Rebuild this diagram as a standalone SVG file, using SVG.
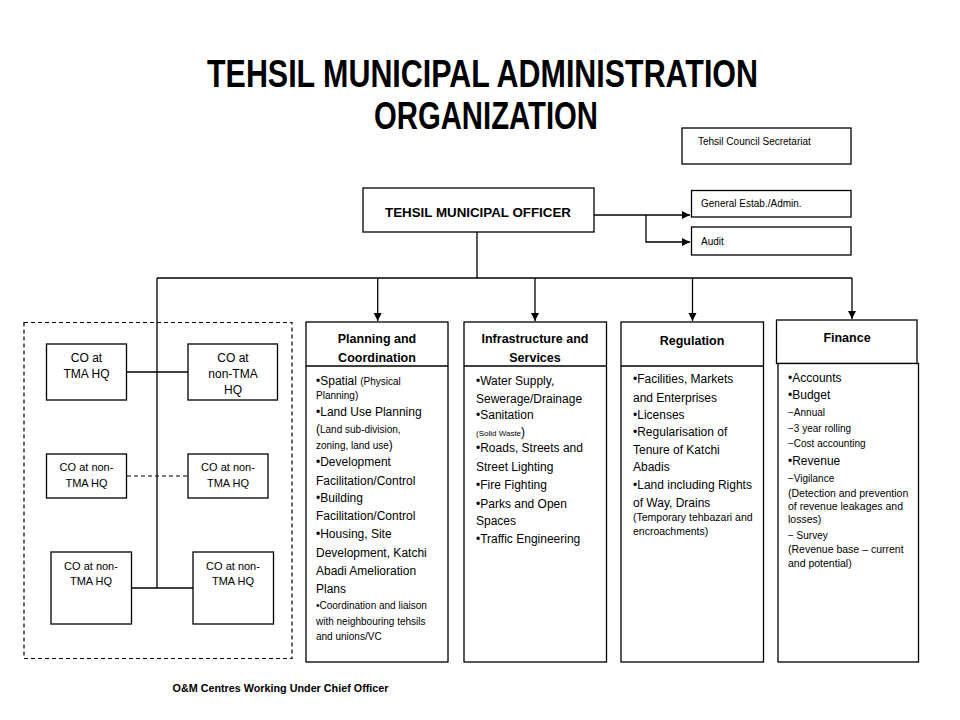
<svg xmlns="http://www.w3.org/2000/svg" width="960" height="720" viewBox="0 0 960 720">
<defs>
<marker id="arr" viewBox="0 0 10 10" refX="10" refY="5" markerWidth="8" markerHeight="9" markerUnits="userSpaceOnUse" orient="auto">
<path d="M0,0 L10,5 L0,10 z" fill="#000"/>
</marker>
<style>
.box{fill:#fff;stroke:#000;stroke-width:1.3}
.ln{fill:none;stroke:#000;stroke-width:1.3}
.dash{fill:none;stroke:#000;stroke-width:1.2;stroke-dasharray:4,3}
text{font-family:"Liberation Sans",Arial,sans-serif;fill:#000}
.title{font-size:39px;font-weight:bold;text-anchor:middle}
.hd{font-size:12.5px;font-weight:bold;text-anchor:middle}
.b{font-size:12px}
.s{font-size:10px}
.xs{font-size:8px}
.f{font-size:10px}
.fn{font-size:10.5px}
.co{font-size:12px;text-anchor:middle}
.co2{font-size:11px;text-anchor:middle}
</style>
</defs>
<rect width="960" height="720" fill="#fff"/>
<g id="title">
<text class="title" x="482.5" y="87" textLength="551" lengthAdjust="spacingAndGlyphs">TEHSIL MUNICIPAL ADMINISTRATION</text>
<text class="title" x="486" y="129" textLength="224" lengthAdjust="spacingAndGlyphs">ORGANIZATION</text>
</g>
<g id="connectors">
<path class="ln" d="M594,215 H690" marker-end="url(#arr)"/>
<path class="ln" d="M646,215 V242 H690" marker-end="url(#arr)"/>
<path class="ln" d="M477,232 V278"/>
<path class="ln" d="M157,278 H852"/>
<path class="ln" d="M157,278 V588"/>
<path class="ln" d="M377.7,278 V321" marker-end="url(#arr)"/>
<path class="ln" d="M535,278 V321" marker-end="url(#arr)"/>
<path class="ln" d="M692.5,278 V321" marker-end="url(#arr)"/>
<path class="ln" d="M852,278 V319" marker-end="url(#arr)"/>
<path class="ln" d="M127,372 H188"/>
<path class="dash" d="M127,476 H188"/>
<path class="ln" d="M132,588 H193"/>
</g>
<g id="council">
<rect class="box" x="682" y="128" width="169" height="36"/>
<text class="s" x="698" y="145">Tehsil Council Secretariat</text>
</g>
<g id="tmo">
<rect class="box" x="363" y="188" width="231" height="44"/>
<text x="478" y="217" font-size="13" font-weight="bold" text-anchor="middle" textLength="186" lengthAdjust="spacingAndGlyphs">TEHSIL MUNICIPAL OFFICER</text>
</g>
<g id="general">
<rect class="box" x="691.5" y="190.5" width="159.5" height="26.5"/>
<text class="s" x="701" y="207">General Estab./Admin.</text>
</g>
<g id="audit">
<rect class="box" x="691.5" y="227" width="159.5" height="28"/>
<text class="s" x="701" y="245">Audit</text>
</g>
<g id="om-centres">
<rect class="dash" x="24" y="322.5" width="268" height="336"/>
<text x="172.5" y="692" font-size="10.5" font-weight="bold" textLength="216" lengthAdjust="spacingAndGlyphs">O&amp;M Centres Working Under Chief Officer</text>
</g>
<g id="co1">
<rect class="box" x="46.5" y="344" width="80" height="56"/>
<text class="co" x="86.5" y="361.5">CO  at</text>
<text class="co" x="86.5" y="377.5">TMA  HQ</text>
</g>
<g id="co2">
<rect class="box" x="188" y="344" width="89.5" height="56"/>
<text class="co" x="233" y="361.5">CO  at</text>
<text class="co" x="233" y="377.5">non-TMA</text>
<text class="co" x="233" y="394">HQ</text>
</g>
<g id="co3">
<rect class="box" x="46.5" y="454" width="80" height="44"/>
<text class="co2" x="86.5" y="471">CO at non-</text>
<text class="co2" x="86.5" y="487">TMA HQ</text>
</g>
<g id="co4">
<rect class="box" x="188" y="454" width="80" height="44"/>
<text class="co2" x="228" y="471">CO at non-</text>
<text class="co2" x="228" y="487">TMA HQ</text>
</g>
<g id="co5">
<rect class="box" x="51" y="552" width="80.5" height="72"/>
<text class="co2" x="91" y="570">CO at non-</text>
<text class="co2" x="91" y="585">TMA HQ</text>
</g>
<g id="co6">
<rect class="box" x="193" y="552" width="80.5" height="72"/>
<text class="co2" x="233" y="570">CO at non-</text>
<text class="co2" x="233" y="585">TMA HQ</text>
</g>
<g id="planning">
<rect class="box" x="306" y="322" width="142" height="340"/>
<path class="ln" d="M306,366 H448"/>
<text class="hd" x="377" y="343">Planning and</text>
<text class="hd" x="377" y="362">Coordination</text>
<text x="316" y="385"><tspan class="b">•Spatial </tspan><tspan class="s">(Physical</tspan></text>
<text class="s" x="316" y="399">Planning)</text>
<text class="b" x="316" y="416">•Land Use Planning</text>
<text x="316" y="433"><tspan class="b">(</tspan><tspan class="s">Land sub-division,</tspan></text>
<text x="316" y="449"><tspan class="s">zoning,  land use</tspan><tspan class="b">)</tspan></text>
<text class="b" x="316" y="466">•Development</text>
<text class="b" x="316" y="485">Facilitation/Control</text>
<text class="b" x="316" y="502">•Building</text>
<text class="b" x="316" y="520">Facilitation/Control</text>
<text class="b" x="316" y="538">•Housing, Site</text>
<text class="b" x="316" y="557">Development, Katchi</text>
<text class="b" x="316" y="575">Abadi Amelioration</text>
<text class="b" x="316" y="593">Plans</text>
<text class="s" x="316" y="609">•Coordination and liaison</text>
<text class="s" x="316" y="625">with neighbouring tehsils</text>
<text class="s" x="316" y="640">and unions/VC</text>
</g>
<g id="infrastructure">
<rect class="box" x="464" y="322" width="142.5" height="340"/>
<path class="ln" d="M464,366 H606.5"/>
<text class="hd" x="535" y="343">Infrastructure  and</text>
<text class="hd" x="535" y="362">Services</text>
<text class="b" x="476" y="385">•Water Supply,</text>
<text class="b" x="476" y="403">Sewerage/Drainage</text>
<text class="b" x="476" y="419">•Sanitation</text>
<text x="476" y="436"><tspan class="xs">(Solid Waste</tspan><tspan class="b">)</tspan></text>
<text class="b" x="476" y="452">•Roads, Streets and</text>
<text class="b" x="476" y="471">Street Lighting</text>
<text class="b" x="476" y="489">•Fire Fighting</text>
<text class="b" x="476" y="508">•Parks and Open</text>
<text class="b" x="476" y="525">Spaces</text>
<text class="b" x="476" y="543">•Traffic Engineering</text>
</g>
<g id="regulation">
<rect class="box" x="621" y="322" width="142.5" height="340"/>
<path class="ln" d="M621,366 H763.5"/>
<text class="hd" x="692" y="345">Regulation</text>
<text class="b" x="633" y="383">•Facilities, Markets</text>
<text class="b" x="633" y="402">and Enterprises</text>
<text class="b" x="633" y="419">•Licenses</text>
<text class="b" x="633" y="436">•Regularisation of</text>
<text class="b" x="633" y="454">Tenure of Katchi</text>
<text class="b" x="633" y="471">Abadis</text>
<text class="b" x="633" y="489">•Land including Rights</text>
<text class="b" x="633" y="507">of Way, Drains</text>
<text class="fn" x="633" y="521">(Temporary tehbazari and</text>
<text class="fn" x="633" y="535">encroachments)</text>
</g>
<g id="finance">
<rect class="box" x="776.5" y="320" width="140.5" height="43.5"/>
<rect class="box" x="778" y="363.5" width="140.5" height="298.5"/>
<text class="hd" x="847" y="342">Finance</text>
<text class="b" x="788" y="382">•Accounts</text>
<text class="b" x="788" y="399">•Budget</text>
<text class="f" x="788" y="416">−Annual</text>
<text class="f" x="788" y="432">−3 year rolling</text>
<text class="f" x="788" y="447">−Cost accounting</text>
<text class="b" x="788" y="465">•Revenue</text>
<text class="f" x="788" y="482">−Vigilance</text>
<text class="fn" x="788" y="497">(Detection and prevention</text>
<text class="fn" x="788" y="510">of revenue leakages and</text>
<text class="fn" x="788" y="523">losses)</text>
<text class="f" x="788" y="539">− Survey</text>
<text class="fn" x="788" y="553">(Revenue base – current</text>
<text class="fn" x="788" y="567">and potential)</text>
</g>
</svg>
